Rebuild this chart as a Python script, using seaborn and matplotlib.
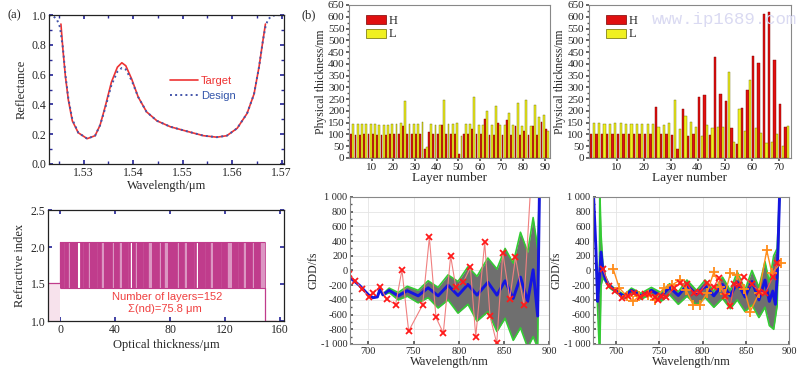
import numpy as np
import matplotlib
matplotlib.use('Agg')
import matplotlib.pyplot as plt
import seaborn as sns
from matplotlib.patches import Patch
from matplotlib.ticker import MultipleLocator

# ---------------- data ----------------
# (a) reflectance spectra
wl_target = [1.5254, 1.5258, 1.5263, 1.5269, 1.5277, 1.5289, 1.5307, 1.5323, 1.5333, 1.5343,
             1.5356, 1.5368, 1.5377, 1.5385, 1.5397, 1.5410, 1.5427, 1.5448, 1.5475, 1.5508,
             1.5542, 1.5569, 1.5589, 1.5610, 1.5630, 1.5644, 1.5654, 1.5662, 1.5667]
r_target = [0.94, 0.77, 0.59, 0.43, 0.29, 0.21, 0.17, 0.19, 0.26, 0.38,
            0.55, 0.65, 0.68, 0.66, 0.57, 0.45, 0.35, 0.29, 0.25, 0.22,
            0.19, 0.18, 0.19, 0.24, 0.34, 0.47, 0.65, 0.83, 0.94]
wl_design = [1.5230, 1.5238, 1.5246, 1.5252, 1.5258, 1.5263, 1.5269, 1.5277, 1.5289, 1.5307,
             1.5323, 1.5333, 1.5343, 1.5356, 1.5368, 1.5377, 1.5385, 1.5397, 1.5410, 1.5427,
             1.5448, 1.5475, 1.5508, 1.5542, 1.5569, 1.5589, 1.5610, 1.5630, 1.5644, 1.5654,
             1.5662, 1.5667, 1.5672, 1.5680, 1.5690, 1.5705]
r_design = [1.00, 0.995, 0.97, 0.92, 0.78, 0.60, 0.44, 0.30, 0.21, 0.17,
            0.19, 0.26, 0.37, 0.53, 0.62, 0.645, 0.635, 0.56, 0.45, 0.35,
            0.29, 0.25, 0.22, 0.19, 0.18, 0.19, 0.24, 0.34, 0.47, 0.65,
            0.83, 0.92, 0.97, 0.995, 1.00, 1.00]

# (a) refractive index profile: bands of the stack (D = dense/high, L = low, W = gap)
band_width = [3.0, 0.6, 2.2, 1.4, 4.6, 0.6, 1.8, 1.2, 1.4, 0.6, 2.5, 1.6, 5.0, 0.8, 2.0,
              2.2, 6.5, 1.0, 3.5, 2.6, 4.0, 0.8, 0.9, 1.2, 2.4, 1.2, 5.0, 0.6, 3.0, 2.5,
              5.5, 1.0, 2.5, 3.0, 6.0, 1.5, 4.0, 2.0, 5.0, 0.8, 0.8, 1.5, 5.0, 1.0, 3.0,
              2.2, 5.5, 0.8, 4.0, 3.0, 4.5, 1.0, 2.5, 2.2, 5.0, 0.8, 3.0, 1.6, 3.6]
band_kind = "DLDLDLWLDLDLDLDLDLDLDLDWDLDLDLDLDLDLDLDLDWDLDLDLDLDLDLDLD"
n_high, n_low, n_sub, n_air = 2.07, 1.45, 1.52, 1.0

# (b) physical thickness of layers (odd = H, even = L)
thick_left = [100, 145, 98, 143, 98, 143, 100, 145, 102, 146, 100, 144, 98, 141, 98, 141,
              98, 141, 100, 143, 100, 144, 102, 147, 138, 240, 103, 145, 103, 145, 103, 145,
              103, 152, 38, 48, 110, 143, 100, 142, 100, 140, 140, 246, 102, 143, 102, 143,
              102, 147, 17, 95, 102, 143, 102, 143, 122, 258, 102, 140, 102, 140, 164, 201,
              98, 140, 98, 221, 150, 140, 98, 140, 161, 193, 98, 140, 136, 232, 98, 136,
              116, 246, 98, 136, 136, 225, 98, 173, 154, 183, 123, 116]
thick_right = [102, 148, 103, 148, 100, 146, 100, 146, 102, 147, 102, 147, 100, 146, 100, 146,
               100, 146, 100, 146, 100, 146, 102, 143, 218, 132, 102, 142, 102, 147, 98, 246,
               40, 122, 210, 178, 93, 153, 102, 130, 258, 95, 268, 142, 98, 129, 428, 133,
               272, 133, 244, 367, 126, 68, 61, 207, 214, 115, 289, 331, 433, 127, 405, 108,
               612, 62, 619, 68, 416, 100, 229, 52, 130, 134]

# (b) GDD, left design
gl_wl = [680, 690, 700, 705, 710, 713, 716, 723, 733, 743, 755, 766, 777, 788, 799, 810,
         820, 832, 842, 851, 860, 868, 876, 882, 887, 889]
gl_design = [-100, -200, -330, -370, -360, -250, -330, -270, -345, -275, -345, -235, -345,
             -200, -340, -190, -335, -160, -335, -140, -380, -90, -420, 10, -620, 1100]
gl_upper = [-100, -200, -330, -370, -360, -250, -320, -240, -300, -215, -270, -140, -230,
            -60, -150, 50, -80, 170, 20, 300, 100, 520, 250, 720, 300, 1100]
gl_lower = [-100, -200, -330, -370, -360, -250, -340, -300, -400, -350, -440, -370, -510,
            -400, -580, -460, -690, -560, -830, -650, -950, -780, -1050, -900, -1050, 1100]
gl_meas_wl = [679, 685.2, 693.3, 700.6, 705.4, 713.2, 720.2, 730.1, 737.1, 744.5, 760, 767.4,
              774.7, 782.8, 790.9, 796.5, 805, 812.7, 818.6, 828.5, 834.4, 841.8, 848.5,
              856.2, 862.5, 871.7, 880]
gl_meas = [-50, -138, -250, -363, -309, -219, -390, -463, 7, -824, -467, 449, -639, -851,
           196, -219, -156, 43, -900, 381, -625, -991, 241, -386, 178, -467, 1300]

# (b) GDD, right design
gr_wl = [674, 677, 679, 681, 683, 685, 688, 692, 700, 710, 718, 729, 741, 752, 762, 772,
         782, 793, 803, 813, 823, 832, 840, 849, 857, 865, 872, 877, 881, 884, 886, 889]
gr_design = [1100, 300, -420, -100, 250, 0, -120, -200, -280, -355, -270, -345, -270, -350,
             -230, -340, -200, -330, -210, -345, -190, -345, -160, -360, -150, -400, -130,
             -420, -280, -460, -100, 1100]
gr_band_wl = [677, 679, 681, 681.5, 683, 685, 688, 692, 700, 710, 718, 729, 741, 752, 762,
              772, 782, 793, 803, 813, 823, 832, 840, 849, 857, 865, 872, 877, 882, 886, 889]
gr_upper = [300, -380, -300, 1100, 480, 100, -80, -180, -260, -330, -240, -310, -230, -300,
            -180, -290, -130, -270, -130, -280, -90, -270, -20, -260, 0, -230, 120, -160,
            200, 300, 1100]
gr_lower = [250, -520, -1100, -1100, -200, -100, -150, -230, -300, -380, -300, -390, -320,
            -420, -330, -460, -350, -470, -370, -500, -380, -520, -400, -560, -470, -640,
            -500, -750, -800, -480, 1100]
gr_x_wl = [685, 692.7, 699.2, 706.9, 713.5, 721.2, 728, 733.8, 738.8, 744.6, 749.2, 752.3,
           757.7, 767.3, 773.5, 781.9, 789.6, 796.5, 805, 812.7, 818.5, 826.2, 831.9, 836.5,
           841.5, 848.1, 856.9, 865.4, 872.3, 880.8, 885.8]
gr_x = [20, -210, -273, -377, -345, -309, -354, -318, -318, -354, -400, -345, -363, -242,
        -174, -183, -309, -291, -174, -228, -106, -345, -481, -183, -196, -93, -187, -287,
        -309, -93, 97]
gr_plus_wl = [697, 704, 713, 720, 727, 737, 745, 755, 765, 774, 781, 789, 797, 805, 813, 820,
              826, 832, 840, 848, 855, 865, 874, 880, 890]
gr_plus = [20, -240, -350, -420, -345, -330, -400, -240, -195, -130, -265, -465, -465, -310,
           -20, -220, -320, -40, -60, -250, -560, -310, 275, -40, 105]

gdd_ticks = [-1000, -800, -600, -400, -200, 0, 200, 400, 600, 800, 1000]
gdd_labels = ['-1 000', '-800', '-600', '-400', '-200', '0', '200', '400', '600', '800', '1 000']

# ---------------- style ----------------
sns.set_theme(style='ticks')
plt.rcParams['font.family'] = ['Liberation Serif', 'DejaVu Serif']
plt.rcParams['axes.unicode_minus'] = False
SANS = ['Liberation Sans', 'DejaVu Sans']
NAVY = '#2a2a9a'
MAG = '#c03c8c'

fig = plt.figure(figsize=(8, 3.75), dpi=100)

# ---------------- (a) top: reflectance ----------------
ax1 = fig.add_axes([0.0613, 0.5627, 0.294, 0.397])
sns.lineplot(x=wl_target, y=r_target, ax=ax1, color='#ee3333', lw=1.2, sort=False, label='Target')
sns.lineplot(x=wl_design, y=r_design, ax=ax1, color='#4455aa', lw=1.4, linestyle=':',
             sort=False, label='Design')
ax1.set_xlim(1.523, 1.5705)
ax1.set_ylim(0, 1.0)
ax1.set_xticks([1.53, 1.54, 1.55, 1.56, 1.57])
ax1.set_xticklabels(['1.53', '1.54', '1.55', '1.56', '1.57'])
ax1.set_yticks([0, 0.2, 0.4, 0.6, 0.8, 1.0])
ax1.set_yticklabels(['0.0', '0.2', '0.4', '0.6', '0.8', '1.0'])
ax1.xaxis.set_minor_locator(MultipleLocator(0.005))
ax1.yaxis.set_minor_locator(MultipleLocator(0.1))
ax1.tick_params(which='both', direction='in', top=True, right=True, color=NAVY, labelsize=8.5, pad=2)
ax1.tick_params(which='major', length=3)
ax1.tick_params(which='minor', length=2)
ax1.set_xlabel('Wavelength/μm', fontsize=9, labelpad=1)
ax1.set_ylabel('Reflectance', fontsize=9, labelpad=3)
leg = ax1.legend(loc='upper left', bbox_to_anchor=(0.47, 0.66), frameon=False, handlelength=2.6,
                 labelspacing=0.5, handletextpad=0.2, prop={'family': SANS, 'size': 8},
                 labelcolor=['#ee3333', '#3355aa'])
for sp in ax1.spines.values():
    sp.set_color('#222222')
    sp.set_linewidth(0.9)

# ---------------- (a) bottom: refractive index ----------------
ax2 = fig.add_axes([0.06, 0.144, 0.295, 0.296])
edges = np.concatenate([[0], np.cumsum(band_width)])
kind_color = {'D': MAG, 'L': '#dc96c3', 'W': 'white'}
ax2.bar(edges[:-1], n_high - n_low, width=band_width, bottom=n_low, align='edge',
        color=[kind_color[k] for k in band_kind], linewidth=0)
ax2.vlines(edges, n_low, n_high, color=MAG, lw=0.6)
ax2.hlines([n_low, n_high], edges[0], edges[-1], color=MAG, lw=0.8)
ax2.fill_between([-9, 0], n_air, n_sub, color='#f7e2ec', lw=0)
ax2.plot([-9, 0, 0], [n_sub, n_sub, n_high], color=MAG, lw=0.9)
ax2.plot([edges[-1], edges[-1], 157], [n_low, n_air, n_air], color=MAG, lw=0.9)
ax2.text(78, 1.33, 'Number of layers=152', color='#f04040', ha='center', va='center',
         family=SANS, fontsize=8)
ax2.text(76, 1.16, 'Σ(nd)=75.8 μm', color='#f04040', ha='center', va='center',
         family=SANS, fontsize=8)
ax2.set_xlim(-9, 163)
ax2.set_ylim(1.0, 2.5)
ax2.set_xticks([0, 40, 80, 120, 160])
ax2.set_yticks([1.0, 1.5, 2.0, 2.5])
ax2.set_yticklabels(['1.0', '1.5', '2.0', '2.5'])
ax2.tick_params(which='both', direction='in', top=True, right=True, color=NAVY, labelsize=8.5,
                length=3, pad=2)
ax2.set_xlabel('Optical thickness/μm', fontsize=9, labelpad=2)
ax2.set_ylabel('Refractive index', fontsize=9, labelpad=3)
for sp in ax2.spines.values():
    sp.set_color('#222222')
    sp.set_linewidth(0.9)


# ---------------- (b) layer thickness bars ----------------
def thickness_bars(ax, thick, xmax):
    layer = np.arange(1, len(thick) + 1)
    thick = np.asarray(thick)
    is_h = layer % 2 == 1
    ax.bar(layer[is_h] - 0.5, thick[is_h], width=0.85, color='#e01010', edgecolor='#7a0000',
           linewidth=0.3, label='H')
    ax.bar(layer[~is_h] - 0.5, thick[~is_h], width=0.85, color='#f0f020', edgecolor='#6a6a00',
           linewidth=0.3, label='L')
    ax.set_xlim(-0.3, xmax)
    ax.set_ylim(0, 650)
    ax.set_xticks(np.arange(10, xmax, 10))
    ax.set_yticks(np.arange(0, 651, 50))
    ax.yaxis.set_minor_locator(MultipleLocator(25))
    ax.tick_params(which='both', direction='out', color='#555555', labelsize=8, pad=1)
    ax.tick_params(which='major', length=2.5)
    ax.tick_params(which='minor', length=1.5)
    ax.set_xlabel('Layer number', fontsize=9.5, labelpad=0)
    ax.set_ylabel('Physical thickness/nm', fontsize=8.5, labelpad=1)
    handles = [Patch(facecolor='#e01010', edgecolor='#7a0000', lw=0.5),
               Patch(facecolor='#f0f020', edgecolor='#6a6a00', lw=0.5)]
    ax.legend(handles, ['H', 'L'], loc='upper left', bbox_to_anchor=(0.06, 0.97), frameon=False,
              handlelength=1.6, handleheight=0.75, labelspacing=0.15, handletextpad=0.2,
              fontsize=9, borderaxespad=0)
    for sp in ax.spines.values():
        sp.set_color('#888888')
        sp.set_linewidth(0.8)


ax3 = fig.add_axes([0.4368, 0.5787, 0.2508, 0.408])
thickness_bars(ax3, thick_left, 92.5)
ax4 = fig.add_axes([0.736, 0.5787, 0.2525, 0.408])
thickness_bars(ax4, thick_right, 74.5)
fig.text(0.815, 0.935, 'www.ip1689.com', family=['Liberation Mono', 'DejaVu Sans Mono'],
         fontsize=12.5, color='#dadaf2', zorder=0)


# ---------------- (b) GDD ----------------
def gdd_axes(ax, xlim):
    ax.set_xlim(*xlim)
    ax.set_ylim(-1000, 1000)
    ax.set_xticks([700, 750, 800, 850, 900])
    ax.set_yticks(gdd_ticks)
    ax.set_yticklabels(gdd_labels)
    ax.yaxis.set_minor_locator(MultipleLocator(100))
    ax.grid(True, which='major', color='#e4e4e4', lw=0.6)
    ax.set_axisbelow(True)
    ax.tick_params(which='both', direction='in', color='#555555', labelsize=7.5, pad=2)
    ax.tick_params(which='major', length=2.5)
    ax.tick_params(which='minor', length=1.5)
    ax.set_xlabel('Wavelength/nm', fontsize=9, labelpad=0)
    ax.set_ylabel('GDD/fs', fontsize=8.5, labelpad=1)
    for sp in ax.spines.values():
        sp.set_color('#888888')
        sp.set_linewidth(0.8)


ax5 = fig.add_axes([0.4378, 0.0827, 0.249, 0.392])
ax5.fill_between(gl_wl, gl_lower, gl_upper, color='#6f6f6f', lw=0)
sns.lineplot(x=gl_wl, y=gl_upper, ax=ax5, color='#33cc33', lw=1.2, sort=False)
sns.lineplot(x=gl_wl, y=gl_lower, ax=ax5, color='#33cc33', lw=1.2, sort=False)
sns.lineplot(x=gl_wl, y=gl_design, ax=ax5, color='#1515e0', lw=2.1, sort=False)
sns.lineplot(x=gl_meas_wl, y=gl_meas, ax=ax5, color='#f08080', lw=0.8, sort=False,
             marker='x', markersize=5, markeredgewidth=1.3, markeredgecolor='#ff1a1a')
gdd_axes(ax5, (680, 900))

ax6 = fig.add_axes([0.7416, 0.0827, 0.245, 0.392])
ax6.fill_between(gr_band_wl, gr_lower, gr_upper, color='#6f6f6f', lw=0)
sns.lineplot(x=gr_band_wl, y=gr_upper, ax=ax6, color='#33cc33', lw=1.2, sort=False)
sns.lineplot(x=gr_band_wl, y=gr_lower, ax=ax6, color='#33cc33', lw=1.2, sort=False)
sns.lineplot(x=gr_wl, y=gr_design, ax=ax6, color='#1515e0', lw=2.1, sort=False)
sns.lineplot(x=gr_plus_wl, y=gr_plus, ax=ax6, color='#ff8c1a', lw=1.0, sort=False,
             marker='+', markersize=7, markeredgewidth=1.3, markeredgecolor='#ff8c1a')
sns.lineplot(x=gr_x_wl, y=gr_x, ax=ax6, color='#ff5050', lw=0.8, sort=False,
             marker='x', markersize=5, markeredgewidth=1.3, markeredgecolor='#ff1a1a')
gdd_axes(ax6, (674, 900))

# panel labels
fig.text(0.009, 0.975, '(a)', fontsize=9, va='top')
fig.text(0.377, 0.975, '(b)', fontsize=9, va='top')

fig.savefig('out.png', dpi=100)
